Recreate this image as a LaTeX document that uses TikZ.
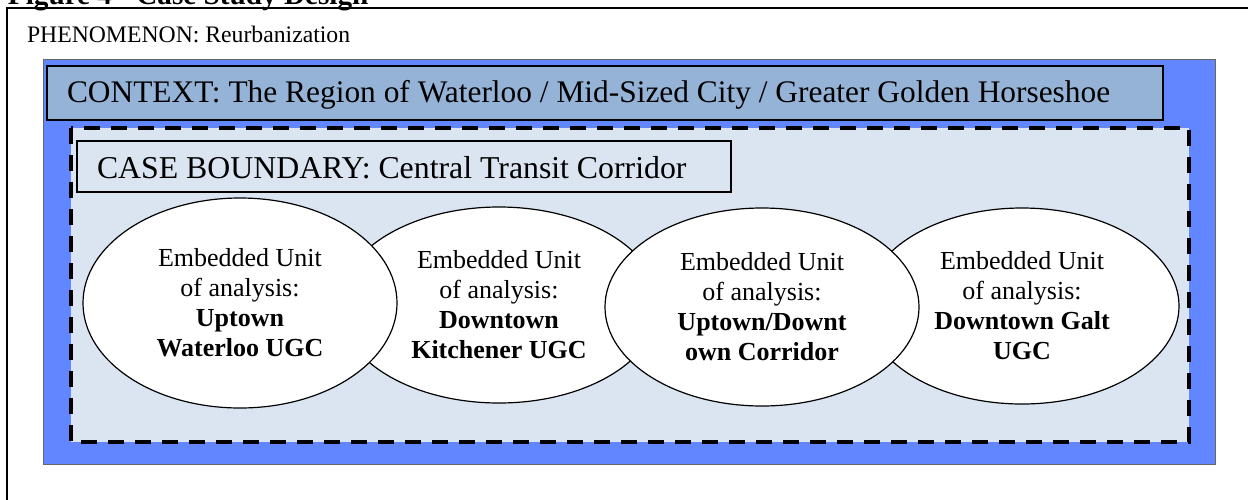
\documentclass[tikz,border=0pt]{standalone}
\usepackage{fontspec}
\setmainfont{Liberation Serif}
\usetikzlibrary{shapes.geometric}
\definecolor{outerblue}{RGB}{98,134,255}
\definecolor{ctxblue}{RGB}{149,179,215}
\definecolor{paleblue}{RGB}{219,229,241}
\newcommand\unitname[1]{\textbf{#1}}

\begin{document}
\begin{tikzpicture}[x=0.5pt, y=-0.5pt,
	every node/.style={inner sep=0pt, outer sep=0pt},
	textline/.style={anchor=base west},
	unit/.style={ellipse, draw=black, line width=0.6pt, fill=white,
		minimum width=157pt, minimum height=99pt, align=center,
		font=\fontsize{13}{15}\selectfont}]
	\useasboundingbox (0,0) rectangle (1248,499);
	\clip (0,0) rectangle (1248,499);
	% frame and title
	\draw[line width=1pt] (7,8) rectangle (1270,520);
	\node[textline, font=\fontsize{14.6}{17}\selectfont\bfseries] (title) at (8,4) {Figure 4 - Case Study Design};
	\node[textline, font=\fontsize{11.85}{14}\selectfont] (phen) at (27,42) {PHENOMENON: Reurbanization};
	% context
	\draw[draw=black!60, line width=0.5pt, fill=outerblue] (43,59) rectangle (1215,464);
	\draw[line width=0.8pt, fill=ctxblue] (47,66) rectangle (1163,120);
	\node[textline, font=\fontsize{15.7}{18}\selectfont] (ctx) at (67,102) {CONTEXT: The Region of Waterloo / Mid-Sized City / Greater Golden Horseshoe};
	% case boundary
	\draw[line width=1.8pt, dash pattern=on 8pt off 5.5pt, fill=paleblue] (71,128) rectangle (1189,442);
	\draw[line width=0.8pt, fill=paleblue] (77,141) rectangle (731,192);
	\node[textline, font=\fontsize{15.9}{18}\selectfont] (case) at (97,178) {CASE BOUNDARY: Central Transit Corridor};
	% embedded units
	\node[unit, minimum width=160pt, minimum height=98pt] (u2) at (499,305)
		{Embedded Unit\\of analysis:\\\unitname{Downtown}\\\unitname{Kitchener UGC}};
	\node[unit, minimum height=98pt] (u4) at (1022,306)
		{Embedded Unit\\of analysis:\\\unitname{Downtown Galt}\\\unitname{UGC}};
	\node[unit, minimum height=105pt] (u1) at (240,303)
		{Embedded Unit\\of analysis:\\\unitname{Uptown}\\\unitname{Waterloo UGC}};
	\node[unit] (u3) at (762,307)
		{Embedded Unit\\of analysis:\\\unitname{Uptown/Downt}\\\unitname{own Corridor}};
\end{tikzpicture}
\end{document}
